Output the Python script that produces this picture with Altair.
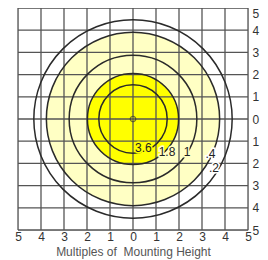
import altair as alt
import pandas as pd

ticks = [-5, -4, -3, -2, -1, 0, 1, 2, 3, 4, 5]
fill_radii = [3.8, 2.0]
fill_colors = ["#FFFFC4", "#FFFF00"]
circle_radii = [1.5, 2.0, 2.8, 3.8, 4.35]
label_text = ["3.6", "1.8", "1", ".4", ".2"]
label_x = [0.45, 1.48, 2.35, 3.37, 3.52]
label_y = [-1.3, -1.47, -1.47, -1.56, -2.2]
label_bg = ["#FFFF00", "#FFFFC4", "#FFFFC4", "#FFFFFF", "#FFFFFF"]

W, H = 230, 222
FONT = "Liberation Sans"

xs = alt.Scale(domain=[-5, 5], nice=False, zero=False)
ys = alt.Scale(domain=[-5, 5], nice=False, zero=False)
rs = alt.Scale(type="linear", domain=[0, 5], range=[0, 114], zero=True)

xaxis = alt.Axis(
    orient="bottom", values=ticks, labelExpr="abs(datum.value)",
    labelOverlap=False, labelFlush=False,
    ticks=False, domain=False, grid=False, labelPadding=1,
    labelFont=FONT, labelFontSize=12, labelColor="#333333",
    title="Multiples of\u00a0 Mounting Height", titleFont=FONT,
    titleFontSize=12, titleFontWeight="normal", titleColor="#555555",
    titlePadding=4)
yaxis = alt.Axis(
    orient="right", values=ticks, labelExpr="abs(datum.value)",
    labelOverlap=False, labelFlush=False,
    labelBaseline={"condition": {"test": "datum.value == 5", "value": "top"}, "value": "middle"},
    ticks=False, domain=False, grid=False, labelPadding=4,
    labelFont=FONT, labelFontSize=12, labelColor="#333333", title=None)

tick_df = pd.DataFrame({"t": ticks})
fill_df = pd.DataFrame({"r": fill_radii, "c": fill_colors, "o": [0, 1]})
circ_df = pd.DataFrame({"r": circle_radii})
lab_df = pd.DataFrame({"label": label_text, "x": label_x, "y": label_y, "bg": label_bg})

fills = alt.Chart(fill_df).mark_arc(theta=0, theta2=6.2832).encode(
    radius=alt.Radius("r:Q", scale=rs, stack=None),
    color=alt.Color("c:N", scale=None),
    order=alt.Order("o:Q"),
)

vgrid = alt.Chart(tick_df).mark_rule(color="#555555", strokeWidth=1.3).encode(
    x=alt.X("t:Q", scale=xs, axis=xaxis),
)
hgrid = alt.Chart(tick_df).mark_rule(color="#555555", strokeWidth=1.3).encode(
    y=alt.Y("t:Q", scale=ys, axis=yaxis),
)

circles = alt.Chart(circ_df).mark_arc(
    theta=0, theta2=6.2832, filled=False, stroke="#2a2a2a", strokeWidth=1.5
).encode(radius=alt.Radius("r:Q", scale=rs, stack=None))

center = alt.Chart(pd.DataFrame({"x": [0], "y": [0]})).mark_point(
    shape="circle", size=30, filled=False, color="#333333", strokeWidth=1.2
).encode(x=alt.X("x:Q", scale=xs, axis=xaxis), y=alt.Y("y:Q", scale=ys, axis=yaxis))

halo = alt.Chart(lab_df).mark_text(
    font=FONT, fontSize=12, strokeWidth=3
).encode(
    x=alt.X("x:Q", scale=xs, axis=xaxis), y=alt.Y("y:Q", scale=ys, axis=yaxis),
    text="label:N",
    stroke=alt.Color("bg:N", scale=None), fill=alt.Color("bg:N", scale=None),
)
labels = alt.Chart(lab_df).mark_text(
    font=FONT, fontSize=12, color="#222222"
).encode(
    x=alt.X("x:Q", scale=xs, axis=xaxis), y=alt.Y("y:Q", scale=ys, axis=yaxis),
    text="label:N",
)

chart = alt.layer(fills, vgrid, hgrid, circles, center, halo, labels).properties(
    width=W, height=H,
    autosize=alt.AutoSizeParams(type="none"),
    padding={"left": 10, "top": 0, "right": 12, "bottom": 30},
).configure_view(stroke=None).configure_axis(labelOverlap=False).configure(background="white")

chart.save("out.html", embed_options={"renderer": "svg", "actions": False})
